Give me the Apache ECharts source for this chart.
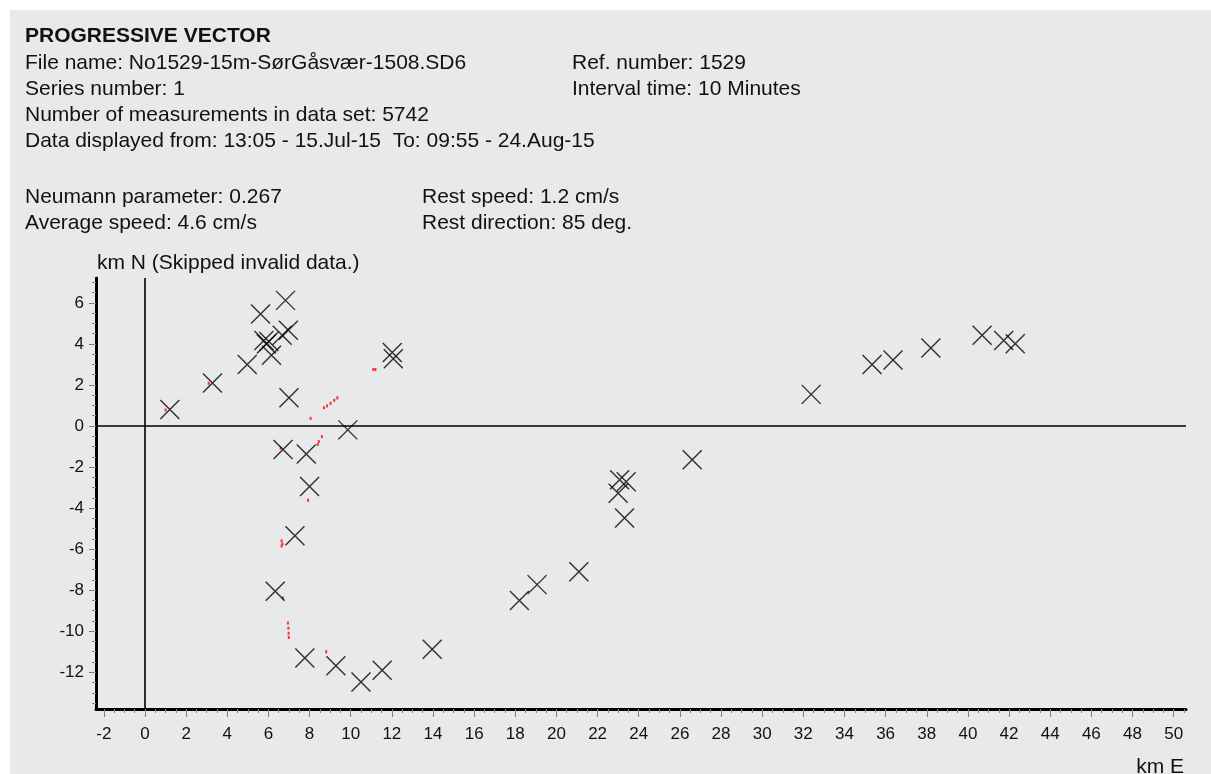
<!DOCTYPE html>
<html>
<head>
<meta charset="utf-8">
<script src="https://cdn.jsdelivr.net/npm/echarts@6/dist/echarts.min.js"></script>
<style>
  html, body { margin: 0; padding: 0; background: #fff; }
  #chart { width: 1211px; height: 774px; }
</style>
</head>
<body>
<div id="chart"></div>
<script>
// positions of the daily markers (km east / km north)
const crossEast = [1.21, 3.28, 4.97, 5.62, 5.78, 5.9, 6.02, 6.15, 6.83, 6.67, 6.97, 7.0, 6.71, 7.84,
  9.86, 12.02, 12.07, 8.0, 7.29, 6.33, 7.77, 9.28, 10.5, 11.53, 13.96, 18.2, 19.06, 21.09,
  23.07, 23.39, 23.0, 23.31, 26.6, 32.38, 35.34, 36.36, 38.2, 40.69, 41.74, 42.3];
const crossNorth = [0.8, 2.09, 2.99, 5.46, 4.17, 4.0, 4.12, 3.45, 6.12, 4.42, 4.66, 1.37, -1.15, -1.37,
  -0.19, 3.58, 3.28, -2.95, -5.35, -8.05, -11.3, -11.68, -12.47, -11.9, -10.88, -8.5, -7.73, -7.1,
  -2.62, -2.72, -3.28, -4.48, -1.65, 1.54, 2.99, 3.22, 3.8, 4.42, 4.17, 4.01];

// visible bits of the track (red)
const trackEast = [1.0, 3.1, 8.05, 8.7, 8.85, 9.02, 9.2, 9.35, 11.1, 11.2, 8.45, 8.6, 8.4, 6.6,
  7.93, 6.64, 6.68, 6.64, 6.7, 6.95, 6.97, 6.98, 6.99, 8.81];
const trackNorth = [0.78, 2.08, 0.37, 0.89, 0.98, 1.1, 1.25, 1.37, 2.75, 2.75, -0.76, -0.52, -0.9, -1.08,
  -3.62, -5.6, -5.75, -5.85, -8.38, -9.6, -9.85, -10.1, -10.3, -11.0];

// tick marks
const xMajor = [];
for (let v = -2; v <= 50; v += 2) xMajor.push(v);
const xMinor = [];
for (let v = -2; v <= 50.5; v += 0.5) xMinor.push(v);
const yMajor = [];
for (let v = -12; v <= 6; v += 2) yMajor.push(v);
const yMinor = [];
for (let v = -13.5; v <= 7; v += 0.5) yMinor.push(v);

const headerLeft = [
  "File name: No1529-15m-SørGåsvær-1508.SD6",
  "Series number: 1",
  "Number of measurements in data set: 5742",
  "Data displayed from: 13:05 - 15.Jul-15  To: 09:55 - 24.Aug-15"
];
const headerRight = ["Ref. number: 1529", "Interval time: 10 Minutes"];
const statsLeft = ["Neumann parameter: 0.267", "Average speed: 4.6 cm/s"];
const statsRight = ["Rest speed: 1.2 cm/s", "Rest direction: 85 deg."];

const FONT = "'Liberation Sans', Arial, sans-serif";
const TXT = "#111";
const FS = 21;     // header text
const TICK_FS = 17;

const chart = echarts.init(document.getElementById("chart"));

function txt(s, x, y, extra) {
  return {
    type: "text",
    x: x, y: y,
    style: Object.assign({ text: s, fill: TXT, fontSize: FS, fontFamily: FONT, verticalAlign: "middle" }, extra || {})
  };
}

const LH = 26;
const graphics = [
  { type: "rect", z: -10, shape: { x: 10, y: 10, width: 1201, height: 764 }, style: { fill: "#e8e9eb" } },
  txt("PROGRESSIVE VECTOR", 25, 36, { fontWeight: "bold" })
];
headerLeft.forEach((s, i) => graphics.push(txt(s, 25, 63 + i * LH)));
headerRight.forEach((s, i) => graphics.push(txt(s, 572, 63 + i * LH)));
statsLeft.forEach((s, i) => graphics.push(txt(s, 25, 197 + i * LH)));
statsRight.forEach((s, i) => graphics.push(txt(s, 422, 197 + i * LH)));
graphics.push(txt("km N (Skipped invalid data.)", 97, 263));
graphics.push(txt("km E", 1184, 767, { align: "right" }));

const xMin = -2.38, xMax = 50.6, yMin = -13.79, yMax = 7.21;

const option = {
  backgroundColor: "#fff",
  animation: false,
  graphic: graphics,
  grid: { left: 96, right: 25, top: 278, bottom: 65, containLabel: false },
  xAxis: [
    {
      type: "value", min: xMin, max: xMax, position: "bottom",
      splitLine: { show: false },
      axisLine: { show: true, onZero: false, lineStyle: { color: "#000", width: 3 } },
      axisTick: { show: true, customValues: xMajor, length: 8, lineStyle: { color: "#777", width: 1 } },
      axisLabel: { customValues: xMajor, color: TXT, fontSize: TICK_FS, fontFamily: FONT, margin: 17 }
    },
    {
      type: "value", min: xMin, max: xMax, position: "bottom",
      splitLine: { show: false },
      axisLine: { show: false, onZero: false },
      axisTick: { show: true, customValues: xMinor, length: 4, lineStyle: { color: "#888", width: 1 } },
      axisLabel: { show: false }
    }
  ],
  yAxis: [
    {
      type: "value", min: yMin, max: yMax, position: "left",
      splitLine: { show: false },
      axisLine: { show: true, onZero: false, lineStyle: { color: "#000", width: 3 } },
      axisTick: { show: true, customValues: yMajor, length: 7, lineStyle: { color: "#777", width: 1 } },
      axisLabel: { customValues: yMajor, color: TXT, fontSize: TICK_FS, fontFamily: FONT, margin: 12 }
    },
    {
      type: "value", min: yMin, max: yMax, position: "left",
      splitLine: { show: false },
      axisLine: { show: false, onZero: false },
      axisTick: { show: true, customValues: yMinor, length: 4, lineStyle: { color: "#888", width: 1 } },
      axisLabel: { show: false }
    }
  ],
  series: [
    {
      type: "scatter",
      xAxisIndex: 0, yAxisIndex: 0,
      data: trackEast.map((e, i) => [e, trackNorth[i]]),
      symbol: "rect",
      symbolSize: [2, 3],
      itemStyle: { color: "#ff0000" },
      z: 3
    },
    {
      type: "scatter",
      xAxisIndex: 0, yAxisIndex: 0,
      data: crossEast.map((e, i) => [e, crossNorth[i]]),
      symbol: "path://M0 0L10 10M10 0L0 10",
      symbolSize: 19,
      itemStyle: { color: "none", borderColor: "#000", borderWidth: 1.4 },
      z: 4,
      markLine: {
        silent: true,
        symbol: "none",
        label: { show: false },
        lineStyle: { color: "#000", width: 1.6, type: "solid" },
        data: [{ xAxis: 0 }, { yAxis: 0 }]
      }
    }
  ]
};
chart.setOption(option);
</script>
</body>
</html>
